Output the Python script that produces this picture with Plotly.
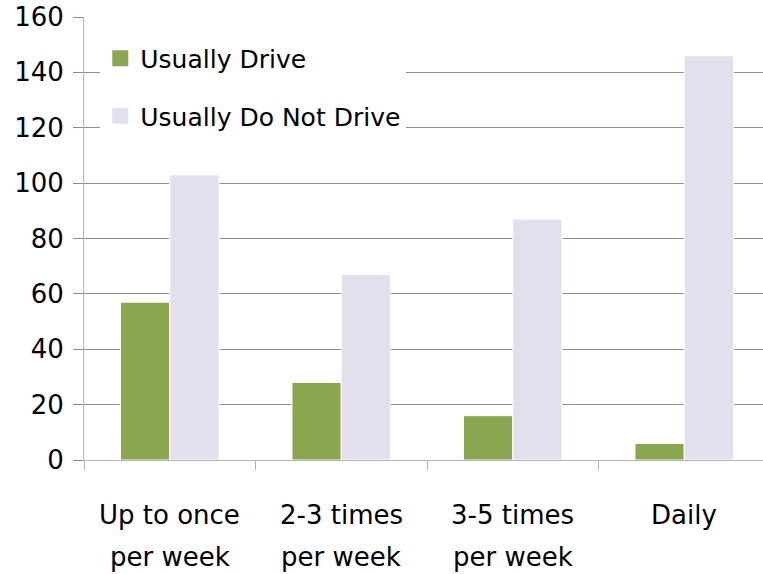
import plotly.graph_objects as go

categories = ["Up to once per week", "2-3 times per week", "3-5 times per week", "Daily"]
label_line1 = ["Up to once", "2-3 times", "3-5 times", "Daily"]
label_line2 = ["per week", "per week", "per week", ""]
usually_drive = [57, 28, 16, 6]
usually_not_drive = [103, 67, 87, 146]
y_ticks = [0, 20, 40, 60, 80, 100, 120, 140, 160]

GREEN = "#8aa64e"
LAVENDER = "#e4dfec"
FONT = "DejaVu Sans"

fig = go.Figure()
fig.add_trace(go.Bar(
    x=categories, y=usually_drive, name="Usually Drive",
    marker=dict(color=GREEN, line=dict(color="white", width=1)),
    showlegend=False,
))
fig.add_trace(go.Bar(
    x=categories, y=usually_not_drive, name="Usually Do Not Drive",
    marker=dict(color=LAVENDER, line=dict(color="white", width=1)),
    showlegend=False,
))
# legend entries with larger square swatches
for name, color, grp in [("Usually Drive", GREEN, "a"), ("Usually Do Not Drive", LAVENDER, "b")]:
    fig.add_trace(go.Scatter(
        x=[None], y=[None], mode="markers", name=name, legendgroup=grp,
        marker=dict(symbol="square", size=16, color=color),
    ))

annotations = []
for cat, l1, l2 in zip(categories, label_line1, label_line2):
    annotations.append(dict(x=cat, y=-0.124, xref="x", yref="paper", text=l1,
                            showarrow=False, yanchor="middle",
                            font=dict(family=FONT, size=26, color="black")))
    if l2:
        annotations.append(dict(x=cat, y=-0.219, xref="x", yref="paper", text=l2,
                                showarrow=False, yanchor="middle",
                                font=dict(family=FONT, size=26, color="black")))

fig.update_layout(
    width=763, height=574,
    margin=dict(l=84, r=0, t=17, b=114),
    paper_bgcolor="white", plot_bgcolor="white",
    barmode="group", bargap=0.425, bargroupgap=0.0,
    font=dict(family=FONT, size=25, color="black"),
    showlegend=True,
    legend=dict(
        x=0.024, y=0.958, xanchor="left", yanchor="top",
        bgcolor="white", borderwidth=0,
        font=dict(family=FONT, size=25, color="black"),
        traceorder="grouped", tracegroupgap=22,
        itemsizing="trace",
    ),
    annotations=annotations,
    xaxis=dict(
        type="category", categoryarray=categories,
        range=[-0.5, 3.5 - 7 / 171.5],
        showticklabels=False,
        tickson="boundaries", ticks="outside", ticklen=9, tickcolor="#b4b4b4",
        showline=True, linecolor="#b4b4b4", linewidth=1,
        showgrid=False, zeroline=False,
    ),
    yaxis=dict(
        range=[0, 160], tickvals=y_ticks,
        ticks="outside", ticklen=10, tickcolor="#8c8c8c",
        ticklabelstandoff=4,
        showline=True, linecolor="#b4b4b4", linewidth=1,
        showgrid=True, gridcolor="#8c8c8c", gridwidth=1,
        zeroline=False,
        tickfont=dict(family=FONT, size=26, color="black"),
    ),
)

fig.write_html("out.html")
